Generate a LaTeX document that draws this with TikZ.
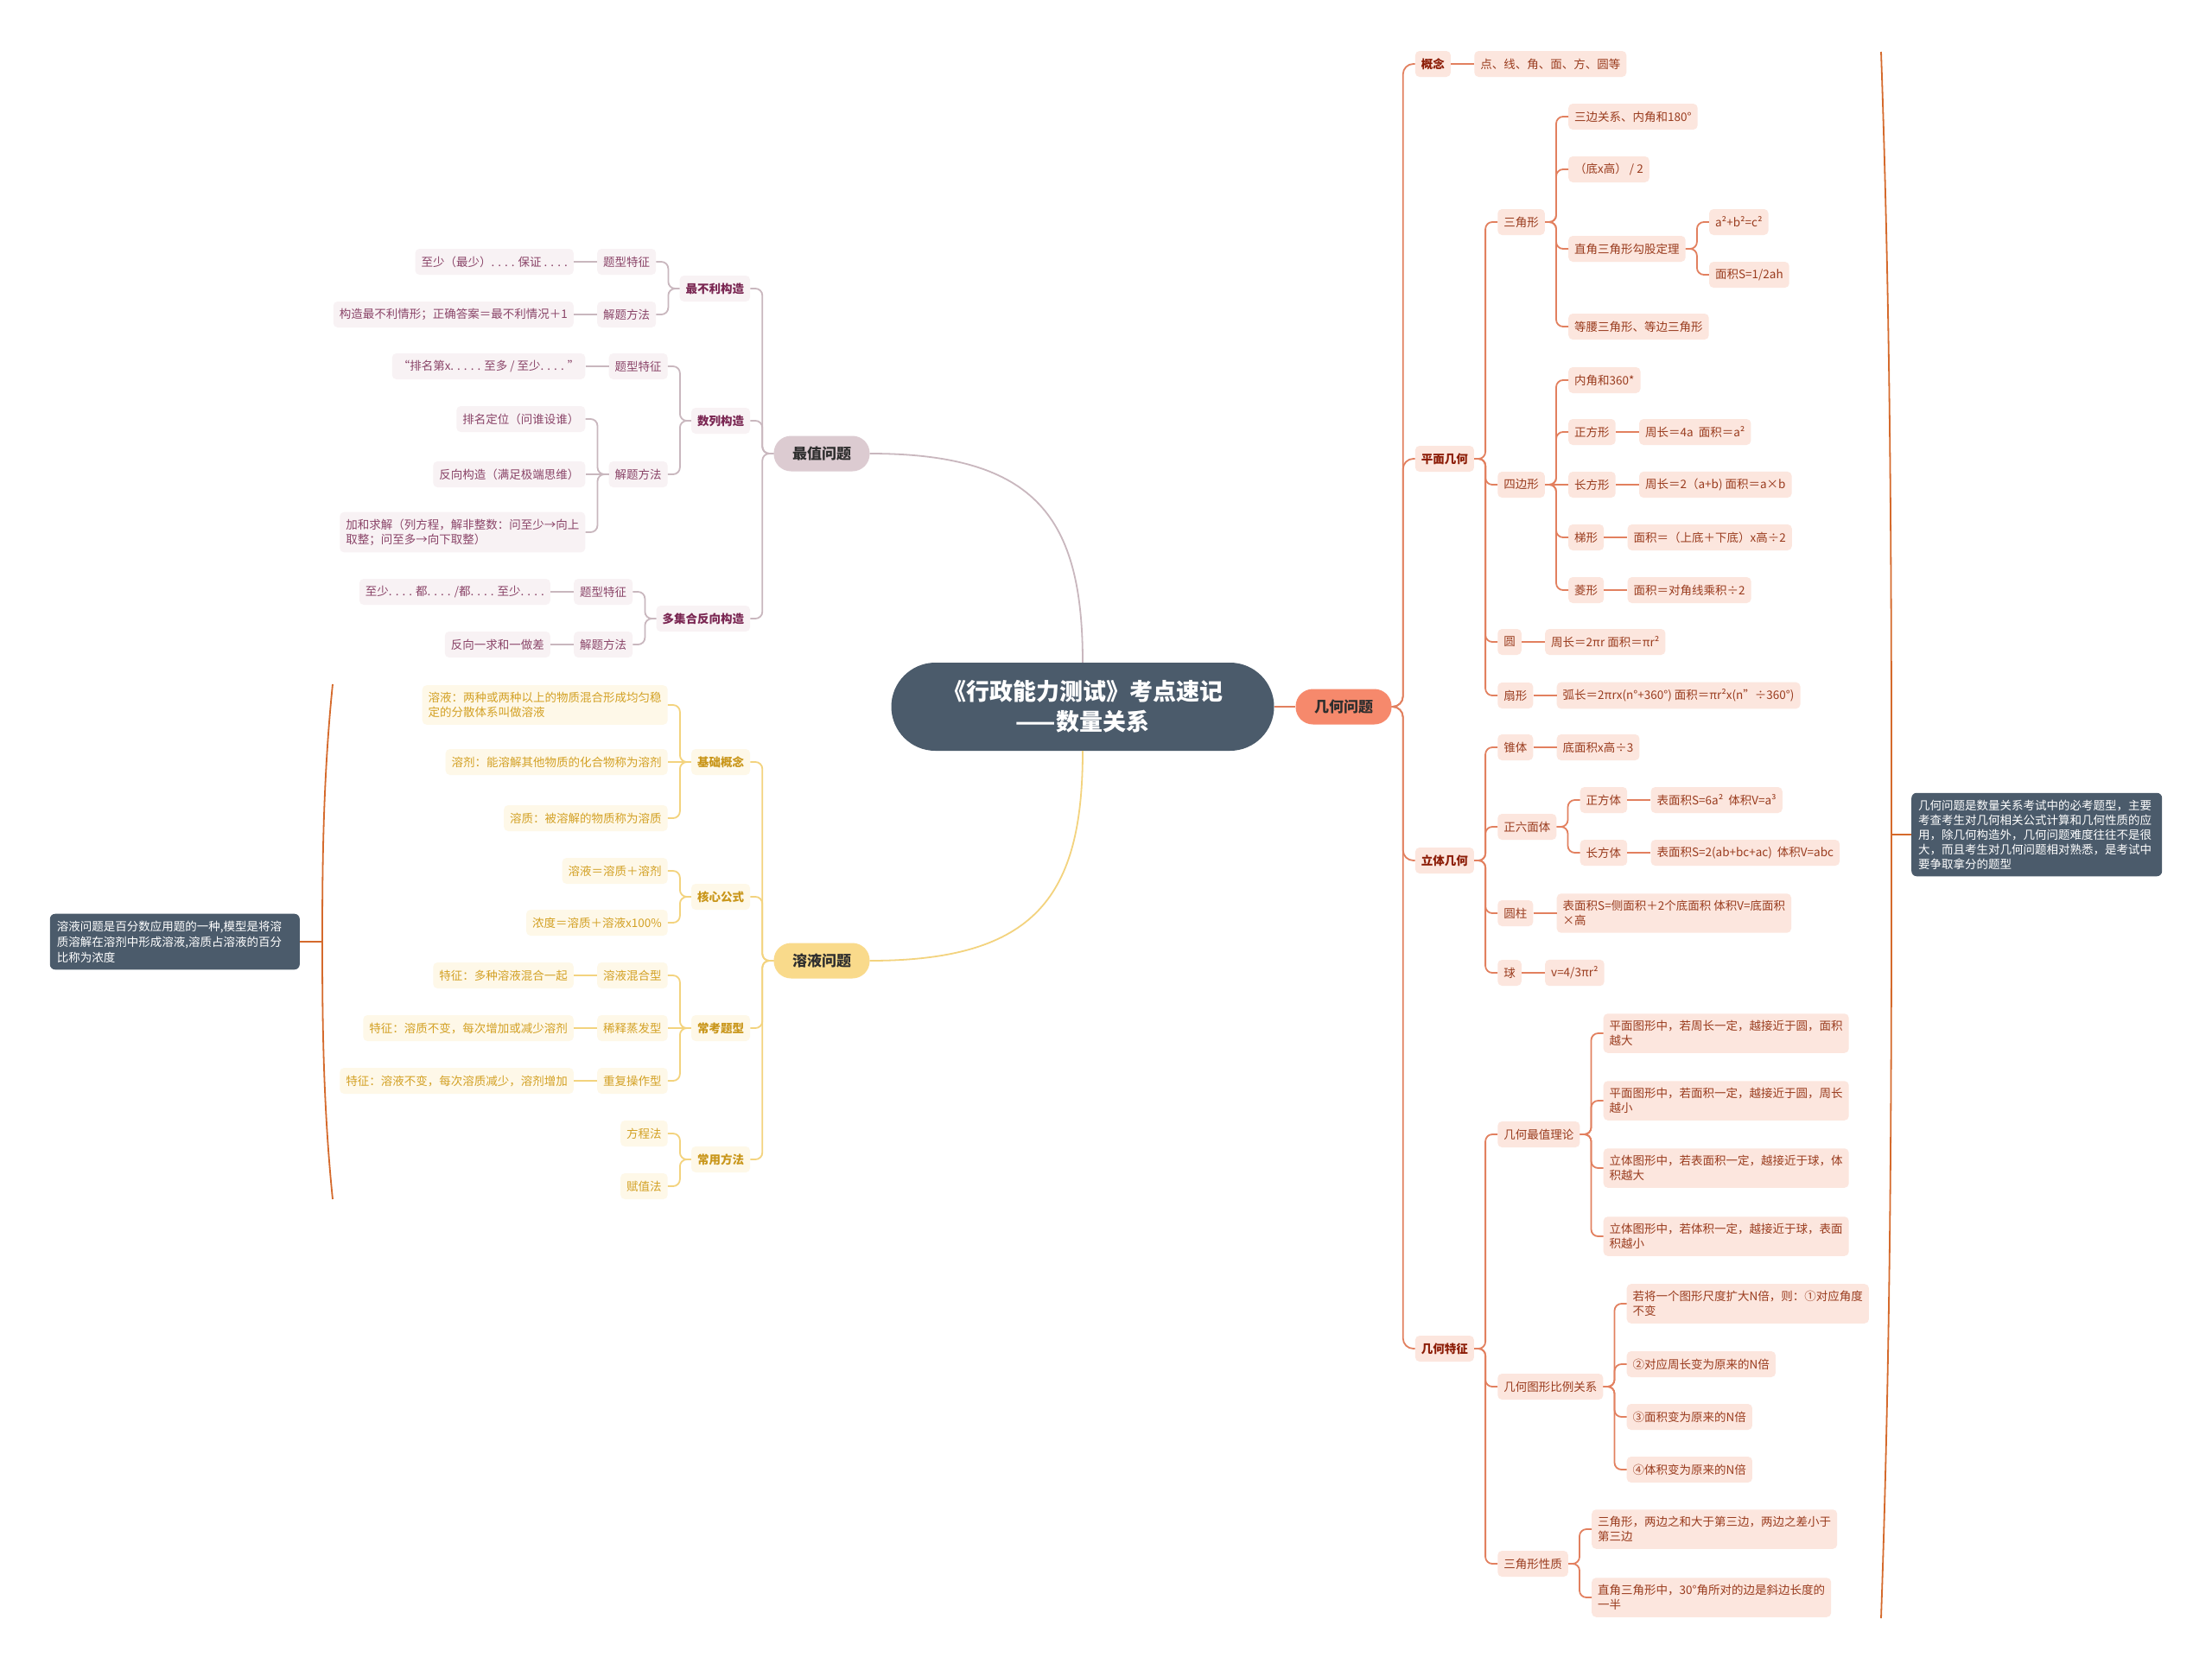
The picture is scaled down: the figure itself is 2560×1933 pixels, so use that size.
\documentclass[tikz,border=0pt]{standalone}
\usepackage{fontspec}
\setmainfont{Noto Sans CJK SC}
\definecolor{slate}{HTML}{4B5B6B}
\definecolor{zTop}{HTML}{DCCBD1}
\definecolor{zLeaf}{HTML}{F8F2F4}
\definecolor{zText}{HTML}{8A4468}
\definecolor{zBold}{HTML}{7A2652}
\definecolor{zLine}{HTML}{C9B7BE}
\definecolor{rTop}{HTML}{F9DA8B}
\definecolor{rLeaf}{HTML}{FEF8E8}
\definecolor{rText}{HTML}{D3A125}
\definecolor{rBold}{HTML}{C9961A}
\definecolor{rLine}{HTML}{F3D37E}
\definecolor{gTop}{HTML}{F6896C}
\definecolor{gLeaf}{HTML}{FCE6DE}
\definecolor{gText}{HTML}{9A3C1F}
\definecolor{gBold}{HTML}{8C1C06}
\definecolor{gLine}{HTML}{E2805F}
\definecolor{brk}{HTML}{D56A2C}
\definecolor{topText}{HTML}{2E2E2E}
\newcommand\myfs{\fontsize{13.5}{17}\selectfont}
\newcommand\Rch[6]{%
  \path (#4.east) ++(27,0) coordinate (tmp);
  \node[#1,anchor=west] (#3) at (tmp |- 0,#5) {#6};
  \draw[#2] (#4.east) -- ++(13,0) |- (#3.west);}
\newcommand\Rst[5]{%
  \path (#4.east) ++(27,0) coordinate (tmp);
  \node[#1,anchor=west] (#3) at (tmp) {#5};
  \draw[#2] (#4.east) -- (#3.west);}
\newcommand\Lch[6]{%
  \path (#4.west) ++(-27,0) coordinate (tmp);
  \node[#1,anchor=east] (#3) at (tmp |- 0,#5) {#6};
  \draw[#2] (#4.west) -- ++(-13,0) |- (#3.east);}
\newcommand\Lst[5]{%
  \path (#4.west) ++(-27,0) coordinate (tmp);
  \node[#1,anchor=east] (#3) at (tmp) {#5};
  \draw[#2] (#4.west) -- (#3.east);}
\tikzset{
  myleaf/.style={rounded corners=5pt, inner xsep=7pt, inner ysep=8pt, minimum height=30pt, font=\myfs, align=left},
  zleaf/.style={myleaf, fill=zLeaf, text=zText},
  zmid/.style={myleaf, fill=zLeaf, text=zBold, font=\myfs\bfseries},
  zline/.style={draw=zLine, line width=1.8pt, rounded corners=8pt},
  rleaf/.style={myleaf, fill=rLeaf, text=rText},
  rmid/.style={myleaf, fill=rLeaf, text=rBold, font=\myfs\bfseries},
  rline/.style={draw=rLine, line width=1.8pt, rounded corners=8pt},
  gleaf/.style={myleaf, fill=gLeaf, text=gText},
  gmid/.style={myleaf, fill=gLeaf, text=gBold, font=\myfs\bfseries},
  gline/.style={draw=gLine, line width=1.8pt, rounded corners=8pt},
  gline1/.style={draw=gLine, line width=1.8pt, rounded corners=12pt},
  lvone/.style={rounded corners=20pt, minimum width=111pt, minimum height=41pt, inner sep=0pt, font=\fontsize{17}{20}\selectfont\bfseries, text=topText},
  mynote/.style={fill=slate, text=white, rounded corners=6pt, inner xsep=8pt, inner ysep=8pt, align=left},
  brkline/.style={draw=brk, line width=1.8pt}
}
\begin{document}
\begin{tikzpicture}[x=1pt,y=-1pt]
\useasboundingbox (0,0) rectangle (2560,1933);
\fill[white] (0,0) rectangle (2560,1933);

% central
\node[fill=slate, text=white, rounded corners=51pt, minimum width=443pt, minimum height=102pt, inner sep=0pt, align=center, font=\fontsize{27}{35}\selectfont\bfseries] (c) at (1253,818) {《行政能力测试》考点速记\\——数量关系};

\node[lvone, fill=zTop] (z) at (951,525) {最值问题};
\node[lvone, fill=rTop] (r) at (951,1112) {溶液问题};
\node[lvone, fill=gTop] (g) at (1555,818) {几何问题};

\draw[zline] (c.north) .. controls (1253,600) and (1200,525) .. (z.east);
\draw[rline] (c.south) .. controls (1253,1036) and (1200,1112) .. (r.east);
\draw[gline] (c.east) -- (g.west);

% ---------- 最值问题 ----------
\Lch{zmid}{zline}{za}{z}{334}{最不利构造}
\Lch{zleaf}{zline}{zaa}{za}{303}{题型特征}
\Lst{zleaf}{zline}{zaax}{zaa}{至少（最少）. . . . 保证 . . . .}
\Lch{zleaf}{zline}{zab}{za}{364}{解题方法}
\Lst{zleaf}{zline}{zabx}{zab}{构造最不利情形；正确答案＝最不利情况＋1}
\Lch{zmid}{zline}{zb}{z}{487}{数列构造}
\Lch{zleaf}{zline}{zba}{zb}{424}{题型特征}
\Lst{zleaf}{zline}{zbax}{zba}{“排名第x. . . . . 至多 / 至少.  . . . ”}
\Lch{zleaf}{zline}{zbb}{zb}{549}{解题方法}
\Lch{zleaf}{zline}{zbba}{zbb}{485}{排名定位（问谁设谁）}
\Lst{zleaf}{zline}{zbbb}{zbb}{反向构造（满足极端思维）}
\Lch{zleaf}{zline}{zbbc}{zbb}{616}{加和求解（列方程，解非整数：问至少→向上\\取整；问至多→向下取整）}
\Lch{zmid}{zline}{zc}{z}{716}{多集合反向构造}
\Lch{zleaf}{zline}{zca}{zc}{685}{题型特征}
\Lst{zleaf}{zline}{zcax}{zca}{至少. . . . 都. . . . /都. . . . 至少. . . .}
\Lch{zleaf}{zline}{zcb}{zc}{746}{解题方法}
\Lst{zleaf}{zline}{zcbx}{zcb}{反向一求和一做差}

% ---------- 溶液问题 ----------
\Lch{rmid}{rline}{ra}{r}{882}{基础概念}
\Lch{rleaf}{rline}{raa}{ra}{816}{溶液：两种或两种以上的物质混合形成均匀稳\\定的分散体系叫做溶液}
\Lst{rleaf}{rline}{rab}{ra}{溶剂：能溶解其他物质的化合物称为溶剂}
\Lch{rleaf}{rline}{rac}{ra}{947}{溶质：被溶解的物质称为溶质}
\Lch{rmid}{rline}{rb}{r}{1038}{核心公式}
\Lch{rleaf}{rline}{rba}{rb}{1008}{溶液＝溶质＋溶剂}
\Lch{rleaf}{rline}{rbb}{rb}{1068}{浓度＝溶质＋溶液x100\%}
\Lch{rmid}{rline}{rc}{r}{1190}{常考题型}
\Lch{rleaf}{rline}{rca}{rc}{1129}{溶液混合型}
\Lst{rleaf}{rline}{rcax}{rca}{特征：多种溶液混合一起}
\Lst{rleaf}{rline}{rcb}{rc}{稀释蒸发型}
\Lst{rleaf}{rline}{rcbx}{rcb}{特征：溶质不变，每次增加或减少溶剂}
\Lch{rleaf}{rline}{rcc}{rc}{1251}{重复操作型}
\Lst{rleaf}{rline}{rccx}{rcc}{特征：溶液不变，每次溶质减少，溶剂增加}
\Lch{rmid}{rline}{rd}{r}{1342}{常用方法}
\Lch{rleaf}{rline}{rda}{rd}{1312}{方程法}
\Lch{rleaf}{rline}{rdb}{rd}{1373}{赋值法}

% ---------- 几何问题 ----------
\Rch{gmid}{gline1}{ga}{g}{74}{概念}
\Rst{gleaf}{gline}{gax}{ga}{点、线、角、面、方、圆等}
\Rch{gmid}{gline1}{gb}{g}{531}{平面几何}
\Rch{gleaf}{gline}{gba}{gb}{257}{三角形}
\Rch{gleaf}{gline}{gbaa}{gba}{135}{三边关系、内角和180°}
\Rch{gleaf}{gline}{gbab}{gba}{196}{（底x高） / 2}
\Rch{gleaf}{gline}{gbac}{gba}{288}{直角三角形勾股定理}
\Rch{gleaf}{gline}{gbaca}{gbac}{257}{a²+b²=c²}
\Rch{gleaf}{gline}{gbacb}{gbac}{318}{面积S=1/2ah}
\Rch{gleaf}{gline}{gbad}{gba}{378}{等腰三角形、等边三角形}
\Rch{gleaf}{gline}{gbb}{gb}{561}{四边形}
\Rch{gleaf}{gline}{gbba}{gbb}{440}{内角和360*}
\Rch{gleaf}{gline}{gbbb}{gbb}{500}{正方形}
\Rst{gleaf}{gline}{gbbbx}{gbbb}{周长＝4a\ \ 面积＝a²}
\Rst{gleaf}{gline}{gbbc}{gbb}{长方形}
\Rst{gleaf}{gline}{gbbcx}{gbbc}{周长＝2（a+b) 面积＝a×b}
\Rch{gleaf}{gline}{gbbd}{gbb}{622}{梯形}
\Rst{gleaf}{gline}{gbbdx}{gbbd}{面积＝（上底＋下底）x高÷2}
\Rch{gleaf}{gline}{gbbe}{gbb}{683}{菱形}
\Rst{gleaf}{gline}{gbbex}{gbbe}{面积＝对角线乘积÷2}
\Rch{gleaf}{gline}{gbc}{gb}{743}{圆}
\Rst{gleaf}{gline}{gbcx}{gbc}{周长＝2πr 面积＝πr²}
\Rch{gleaf}{gline}{gbd}{gb}{805}{扇形}
\Rst{gleaf}{gline}{gbdx}{gbd}{弧长＝2πrx(n°+360°)\ 面积＝πr²x(n"÷360°)}
\Rch{gmid}{gline1}{gc}{g}{996}{立体几何}
\Rch{gleaf}{gline}{gca}{gc}{865}{锥体}
\Rst{gleaf}{gline}{gcax}{gca}{底面积x高÷3}
\Rch{gleaf}{gline}{gcb}{gc}{957}{正六面体}
\Rch{gleaf}{gline}{gcba}{gcb}{926}{正方体}
\Rst{gleaf}{gline}{gcbax}{gcba}{表面积S=6a²\ \ 体积V=a³}
\Rch{gleaf}{gline}{gcbb}{gcb}{987}{长方体}
\Rst{gleaf}{gline}{gcbbx}{gcbb}{表面积S=2(ab+bc+ac)\ \ 体积V=abc}
\Rch{gleaf}{gline}{gcc}{gc}{1057}{圆柱}
\Rst{gleaf}{gline}{gccx}{gcc}{表面积S=侧面积＋2个底面积 体积V=底面积\\×高}
\Rch{gleaf}{gline}{gcd}{gc}{1126}{球}
\Rst{gleaf}{gline}{gcdx}{gcd}{v=4/3πr²}
\Rch{gmid}{gline1}{gd}{g}{1561}{几何特征}
\Rch{gleaf}{gline}{gda}{gd}{1313}{几何最值理论}
\Rch{gleaf}{gline}{gdaa}{gda}{1196}{平面图形中，若周长一定，越接近于圆，面积\\越大}
\Rch{gleaf}{gline}{gdab}{gda}{1274}{平面图形中，若面积一定，越接近于圆，周长\\越小}
\Rch{gleaf}{gline}{gdac}{gda}{1352}{立体图形中，若表面积一定，越接近于球，体\\积越大}
\Rch{gleaf}{gline}{gdad}{gda}{1431}{立体图形中，若体积一定，越接近于球，表面\\积越小}
\Rch{gleaf}{gline}{gdb}{gd}{1605}{几何图形比例关系}
\Rch{gleaf}{gline}{gdba}{gdb}{1509}{若将一个图形尺度扩大N倍，则：①对应角度\\不变}
\Rch{gleaf}{gline}{gdbb}{gdb}{1579}{②对应周长变为原来的N倍}
\Rch{gleaf}{gline}{gdbc}{gdb}{1640}{③面积变为原来的N倍}
\Rch{gleaf}{gline}{gdbd}{gdb}{1701}{④体积变为原来的N倍}
\Rch{gleaf}{gline}{gdc}{gd}{1810}{三角形性质}
\Rch{gleaf}{gline}{gdca}{gdc}{1770}{三角形，两边之和大于第三边，两边之差小于\\第三边}
\Rch{gleaf}{gline}{gdcb}{gdc}{1849}{直角三角形中，30°角所对的边是斜边长度的\\一半}

% ---------- notes and summary brackets ----------
\node[mynote, anchor=east, text width=273pt, font=\fontsize{13.5}{18}\selectfont] (rn) at (347,1090) {溶液问题是百分数应用题的一种,模型是将溶\\质溶解在溶剂中形成溶液,溶质占溶液的百分\\比称为浓度};
\node[mynote, anchor=west, text width=274pt, font=\fontsize{13.5}{17}\selectfont] (gn) at (2212,966) {几何问题是数量关系考试中的必考题型，主要\\考查考生对几何相关公式计算和几何性质的应\\用，除几何构造外，几何问题难度往往不是很\\大，而且考生对几何问题相对熟悉，是考试中\\要争取拿分的题型};

\coordinate (lb) at (373,1090);
\coordinate (rb) at (2189,966);
\draw[brkline] (385,792) .. controls (374,900) and (373,1000) .. (lb) .. controls (373,1180) and (374,1280) .. (385,1388);
\draw[brkline] (lb) -- (rn.east);
\draw[brkline] (2177,60) .. controls (2189,400) and (2189,700) .. (rb) .. controls (2189,1230) and (2189,1530) .. (2177,1873);
\draw[brkline] (rb) -- (gn.west);
\end{tikzpicture}
\end{document}
